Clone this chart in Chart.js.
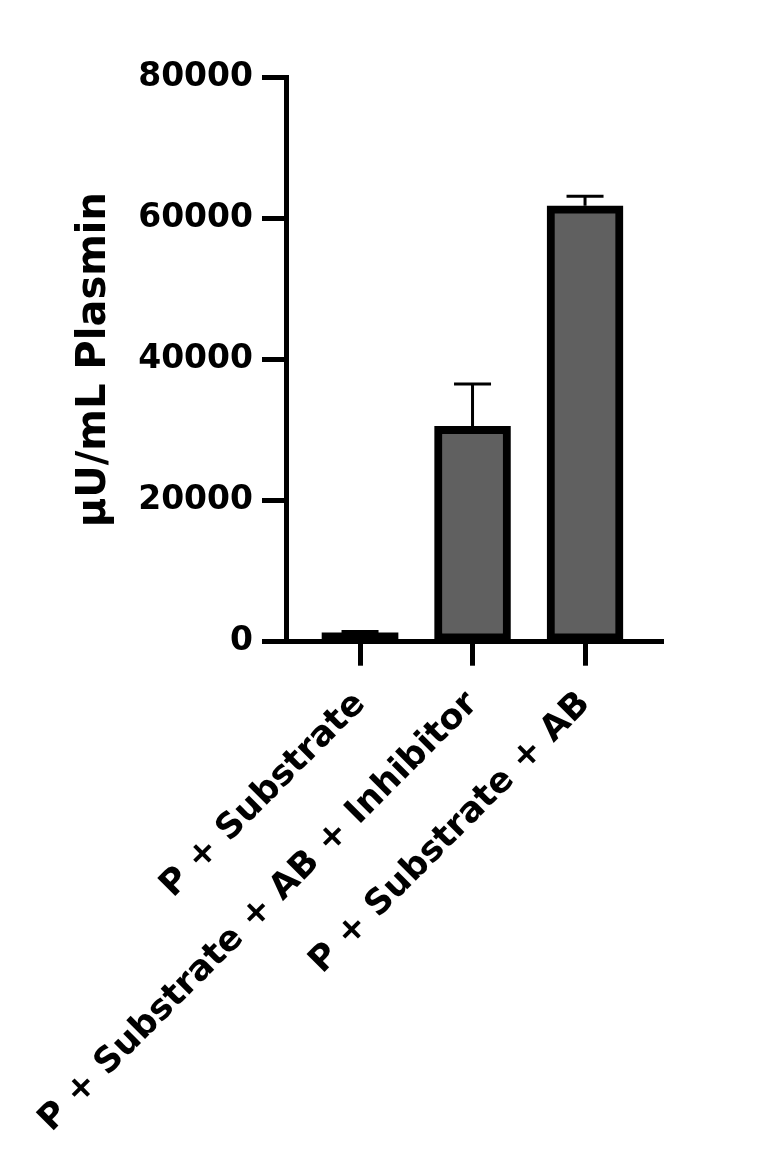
<!DOCTYPE html>
<html>
<head>
<meta charset="utf-8">
<script src="https://cdn.jsdelivr.net/npm/chart.js@4.4.0/dist/chart.umd.min.js"></script>
<style>
  html, body { margin: 0; padding: 0; background: #ffffff; }
  #wrap { width: 768px; height: 1172px; }
</style>
</head>
<body>
<div id="wrap"><canvas id="c" width="768" height="1172"></canvas></div>
<script>
// ---- data ----
const categories = ["P + Substrate", "P + Substrate + AB + Inhibitor", "P + Substrate + AB"];
const meanValues = [1250, 30550, 61800];
const errorValues = [200, 6000, 1350];
const yTicks = [0, 20000, 40000, 60000, 80000];
const yTitle = "µU/mL Plasmin";

const FONT = "'DejaVu Sans', sans-serif";
const BORDER = 8;

// bars shorter than twice the outline render as a solid outline-coloured block
function isThinBar(c) {
  const ys = c.chart.scales.y;
  const v = meanValues[c.dataIndex];
  if (!ys || v === undefined) return false;
  const h = Math.abs(ys.getPixelForValue(0) - ys.getPixelForValue(v));
  return h <= 2 * BORDER + 1;
}

const errorBarPlugin = {
  id: 'errorBars',
  afterDatasetsDraw(chart) {
    const ctx = chart.ctx;
    const xs = chart.scales.x, ys = chart.scales.y;
    ctx.save();
    ctx.strokeStyle = '#000';
    ctx.lineWidth = 3;
    meanValues.forEach((v, i) => {
      const x = xs.getPixelForValue(i);
      const y0 = ys.getPixelForValue(v);
      const y1 = ys.getPixelForValue(v + errorValues[i]);
      ctx.beginPath();
      ctx.moveTo(x, y0);
      ctx.lineTo(x, y1);
      ctx.moveTo(x - 18.5, y1);
      ctx.lineTo(x + 18.5, y1);
      ctx.stroke();
    });
    ctx.restore();
  }
};

new Chart(document.getElementById('c'), {
  type: 'bar',
  data: {
    datasets: [{
      data: meanValues.map((v, i) => ({ x: i, y: v })),
      backgroundColor: (c) => isThinBar(c) ? '#000000' : '#606060',
      borderColor: '#000000',
      borderWidth: (c) => isThinBar(c) ? 0 : BORDER,
      borderSkipped: false,
      barThickness: 76
    }]
  },
  options: {
    responsive: false,
    animation: false,
    layout: { padding: { top: 77.5, right: 105, bottom: 0, left: 0 } },
    plugins: { legend: { display: false }, tooltip: { enabled: false } },
    scales: {
      x: {
        type: 'linear',
        offset: false,
        min: -0.658,
        max: 2.693,
        afterFit(scale) { scale.height = 530.3; },
        afterBuildTicks(scale) { scale.ticks = categories.map((c, i) => ({ value: i })); },
        grid: { offset: false, drawOnChartArea: false, drawTicks: true, tickLength: 24, tickWidth: 5, tickColor: '#000' },
        border: { display: true, color: '#000', width: 5 },
        ticks: {
          autoSkip: false,
          minRotation: 45,
          maxRotation: 45,
          padding: 18,
          color: '#000',
          font: { family: FONT, size: 35, weight: 'bold' },
          callback: (v, idx) => categories[idx]
        }
      },
      y: {
        min: 0,
        max: 80000,
        afterFit(scale) { scale.width = 286; },
        afterBuildTicks(scale) { scale.ticks = yTicks.map(v => ({ value: v })); },
        grid: { drawOnChartArea: false, drawTicks: true, tickLength: 24, tickWidth: 5, tickColor: '#000' },
        border: { display: true, color: '#000', width: 5 },
        ticks: {
          padding: 9,
          color: '#000',
          font: { family: FONT, size: 33, weight: 'bold' },
          callback: (v) => String(v)
        },
        title: {
          display: true,
          text: yTitle,
          color: '#000',
          font: { family: FONT, size: 40, weight: 'bold' },
          padding: { top: 71, bottom: 0 }
        }
      }
    }
  },
  plugins: [errorBarPlugin]
});
</script>
</body>
</html>
